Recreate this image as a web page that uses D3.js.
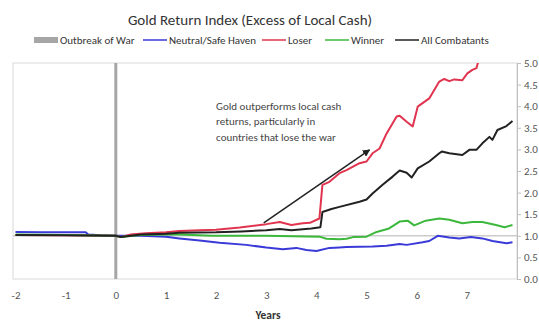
<!DOCTYPE html>
<html>
<head>
<meta charset="utf-8">
<script src="https://cdn.jsdelivr.net/npm/d3@7"></script>
<style>
  body { margin: 0; background: #fff; }
  text { font-family: Carlito, "Liberation Sans Narrow", "Open Sans", sans-serif; }
</style>
</head>
<body>
<script>
// series, years relative to outbreak of war
var neutralT = [-2, -1.5, -1, -0.6, -0.55, -0.3, 0, 0.5, 1, 1.27, 1.67, 2.07, 2.6, 3.0, 3.33, 3.6, 3.8, 4.0, 4.26, 4.46, 4.6, 5.12, 5.4, 5.66, 5.8, 6.12, 6.25, 6.42, 6.65, 6.85, 7.08, 7.31, 7.51, 7.79, 7.91];
var neutralV = [1.09, 1.08, 1.08, 1.08, 1.03, 1.01, 1.0, 1.0, 0.98, 0.94, 0.89, 0.84, 0.79, 0.73, 0.69, 0.72, 0.67, 0.65, 0.72, 0.73, 0.74, 0.75, 0.77, 0.81, 0.79, 0.85, 0.88, 1.0, 0.96, 0.94, 0.97, 0.94, 0.88, 0.83, 0.85];

var loserT = [-2, -1, 0, 0.1, 0.3, 0.6, 1.0, 1.27, 1.67, 2.0, 2.47, 3.0, 3.27, 3.5, 3.73, 3.87, 4.06, 4.12, 4.26, 4.46, 4.6, 4.86, 5.0, 5.12, 5.26, 5.4, 5.6, 5.66, 5.8, 5.92, 6.02, 6.25, 6.45, 6.55, 6.65, 6.75, 6.91, 7.01, 7.11, 7.19, 7.22, 7.3];
var loserV = [1.02, 1.01, 1.0, 0.97, 1.03, 1.06, 1.08, 1.11, 1.13, 1.14, 1.19, 1.27, 1.32, 1.25, 1.29, 1.30, 1.40, 2.18, 2.25, 2.45, 2.52, 2.68, 2.72, 2.91, 3.02, 3.37, 3.76, 3.78, 3.64, 3.53, 3.99, 4.18, 4.57, 4.63, 4.58, 4.62, 4.6, 4.76, 4.84, 4.88, 5.0, 5.2];

var winnerT = [-2, -1, 0, 0.1, 0.5, 1.0, 1.27, 1.93, 3.0, 4.06, 4.2, 4.46, 4.6, 4.73, 5.0, 5.2, 5.45, 5.66, 5.82, 5.95, 6.18, 6.45, 6.65, 6.91, 7.11, 7.31, 7.58, 7.75, 7.91];
var winnerV = [1.03, 1.02, 1.0, 0.97, 1.02, 1.03, 1.03, 1.0, 1.0, 0.98, 0.93, 0.92, 0.93, 0.97, 0.98, 1.09, 1.17, 1.33, 1.35, 1.24, 1.35, 1.40, 1.37, 1.29, 1.32, 1.32, 1.25, 1.20, 1.25];

var allT = [-2, -1, 0, 0.1, 0.5, 1.0, 1.27, 2.0, 2.5, 3.0, 3.27, 3.5, 3.9, 4.08, 4.12, 4.3, 4.46, 4.86, 5.0, 5.12, 5.32, 5.52, 5.66, 5.8, 5.9, 6.02, 6.25, 6.45, 6.5, 6.65, 6.91, 7.05, 7.19, 7.31, 7.45, 7.51, 7.61, 7.79, 7.91];
var allV = [1.02, 1.01, 1.0, 0.97, 1.03, 1.05, 1.07, 1.08, 1.10, 1.13, 1.16, 1.13, 1.17, 1.20, 1.55, 1.62, 1.67, 1.79, 1.84, 1.98, 2.18, 2.37, 2.51, 2.46, 2.35, 2.56, 2.72, 2.91, 2.95, 2.91, 2.87, 2.99, 2.99, 3.14, 3.29, 3.22, 3.45, 3.54, 3.66];

var xTicks = [-2, -1, 0, 1, 2, 3, 4, 5, 6, 7];
var yTicks = [0, 0.5, 1, 1.5, 2, 2.5, 3, 3.5, 4, 4.5, 5];

var seriesNames = ["Neutral/Safe Haven", "Loser", "Winner", "All Combatants"];
var seriesColors = ["#3a3ad8", "#e0344f", "#3cb83c", "#222222"];

var series = [
  {name: seriesNames[0], t: neutralT, v: neutralV, color: seriesColors[0]},
  {name: seriesNames[1], t: loserT, v: loserV, color: seriesColors[1]},
  {name: seriesNames[2], t: winnerT, v: winnerV, color: seriesColors[2]},
  {name: seriesNames[3], t: allT, v: allV, color: seriesColors[3]}
];

var W = 539, H = 322;
var margin = {top: 63, right: 22, bottom: 43, left: 13};
var w = W - margin.left - margin.right;
var h = H - margin.top - margin.bottom;

var svg = d3.select("body").append("svg")
  .attr("width", W)
  .attr("height", H);

// title
svg.append("text")
  .attr("x", 250).attr("y", 25)
  .attr("text-anchor", "middle")
  .style("font-size", "15px")
  .attr("fill", "#333")
  .text("Gold Return Index (Excess of Local Cash)");

// legend
var legend = svg.append("g").attr("transform", "translate(0,41)");
var legItems = [
  {x: 34, label: "Outbreak of War", color: "#a6a6a6", rect: true},
  {x: 143, label: seriesNames[0], color: seriesColors[0]},
  {x: 262, label: seriesNames[1], color: seriesColors[1]},
  {x: 325, label: seriesNames[2], color: seriesColors[2]},
  {x: 395, label: seriesNames[3], color: seriesColors[3]}
];
legItems.forEach(function(d) {
  if (d.rect) {
    legend.append("rect").attr("x", d.x).attr("y", -4).attr("width", 24).attr("height", 6).attr("fill", d.color);
  } else {
    legend.append("line").attr("x1", d.x).attr("x2", d.x + 24).attr("y1", -1).attr("y2", -1)
      .attr("stroke", d.color).attr("stroke-width", 1.5);
  }
  legend.append("text").attr("x", d.x + 26).attr("y", 3)
    .style("font-size", "11px").attr("fill", "#333").text(d.label);
});

var g = svg.append("g").attr("transform", "translate(" + margin.left + "," + margin.top + ")");

var x = d3.scaleLinear().domain([-2.05, 8.0]).range([0, w]);
var y = d3.scaleLinear().domain([0, 5]).range([h, 0]);

// plot border
g.append("rect").attr("width", w).attr("height", h)
  .attr("fill", "none").attr("stroke", "#d9d9d9");

// reference line at 1.0
g.append("line")
  .attr("x1", 0).attr("x2", w)
  .attr("y1", y(1)).attr("y2", y(1))
  .attr("stroke", "#cccccc").attr("stroke-width", 1.5);

// outbreak of war
g.append("line")
  .attr("x1", x(0)).attr("x2", x(0))
  .attr("y1", 0).attr("y2", h)
  .attr("stroke", "#a6a6a6").attr("stroke-width", 3);

// clip
g.append("clipPath").attr("id", "clip")
  .append("rect").attr("width", w).attr("height", h);

var line = d3.line()
  .x(function(d) { return x(d[0]); })
  .y(function(d) { return y(d[1]); });

series.forEach(function(s) {
  g.append("path")
    .datum(d3.zip(s.t, s.v))
    .attr("clip-path", "url(#clip)")
    .attr("fill", "none")
    .attr("stroke", s.color)
    .attr("stroke-width", 2)
    .attr("stroke-linejoin", "round")
    .attr("d", line);
});

// right y axis
var yAxis = g.append("g")
  .attr("transform", "translate(" + w + ",0)")
  .call(d3.axisRight(y).tickValues(yTicks).tickSize(4).tickPadding(3)
    .tickFormat(d3.format(".1f")));
yAxis.select(".domain").attr("stroke", "#bfbfbf");
yAxis.selectAll(".tick line").attr("stroke", "#bfbfbf");
yAxis.selectAll("text").style("font-size", "11px").attr("fill", "#555");

// x axis labels (plain hyphen for negatives)
var xAxis = g.append("g")
  .attr("transform", "translate(0," + h + ")")
  .call(d3.axisBottom(x).tickValues(xTicks).tickSize(0).tickPadding(12)
    .tickFormat(function(d) { return String(d); }));
xAxis.select(".domain").remove();
xAxis.selectAll("text").style("font-size", "11px").attr("fill", "#555");

svg.append("text")
  .attr("x", 268).attr("y", 319)
  .attr("text-anchor", "middle")
  .style("font-size", "11.5px")
  .style("font-weight", "bold")
  .attr("fill", "#333")
  .text("Years");

// annotation
var note = ["Gold outperforms local cash", "returns, particularly in", "countries that lose the war"];
g.append("text")
  .attr("x", x(2.0)).attr("y", y(3.92))
  .style("font-size", "11px")
  .attr("fill", "#444")
  .selectAll("tspan").data(note).enter().append("tspan")
  .attr("x", x(2.0))
  .attr("dy", function(d, i) { return i ? 15.5 : 0; })
  .text(function(d) { return d; });

svg.append("defs").append("marker")
  .attr("id", "arrow").attr("viewBox", "0 0 10 10")
  .attr("refX", 9).attr("refY", 5)
  .attr("markerWidth", 5).attr("markerHeight", 5)
  .attr("orient", "auto")
  .append("path").attr("d", "M0,0 L10,5 L0,10 z").attr("fill", "#222");

g.append("line")
  .attr("x1", x(2.95)).attr("y1", y(1.30))
  .attr("x2", x(5.06)).attr("y2", y(2.99))
  .attr("stroke", "#222").attr("stroke-width", 1.5)
  .attr("marker-end", "url(#arrow)");
</script>
</body>
</html>
